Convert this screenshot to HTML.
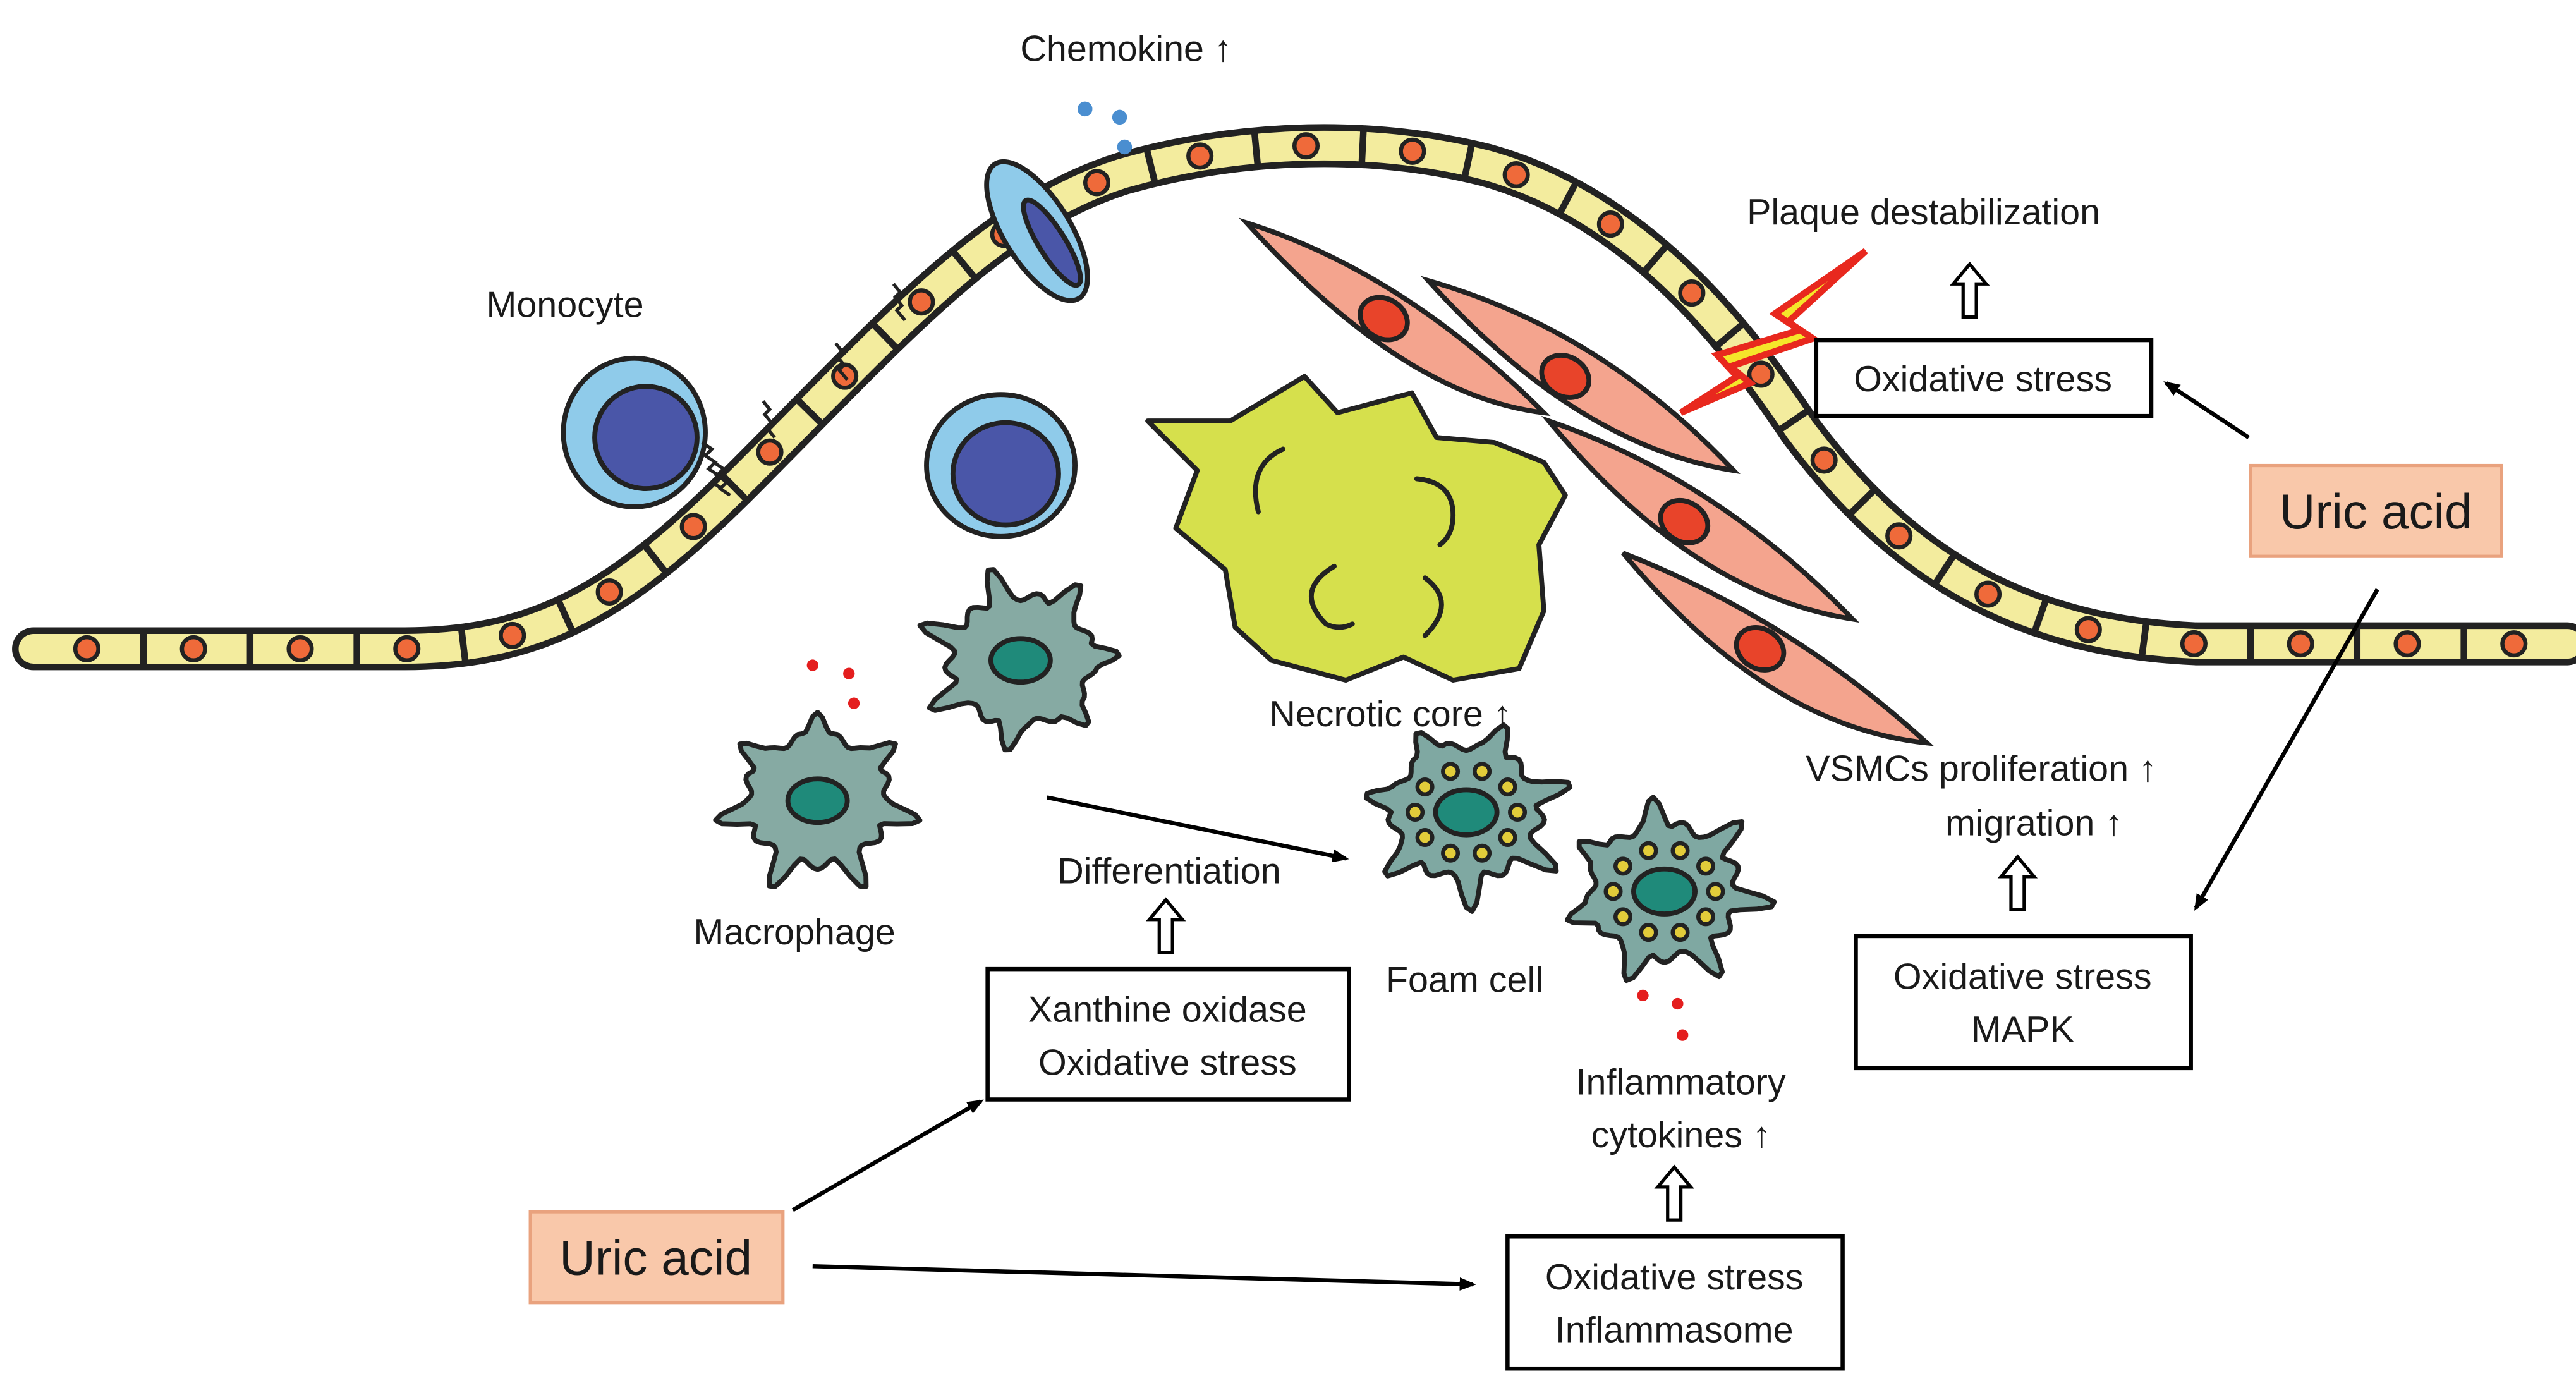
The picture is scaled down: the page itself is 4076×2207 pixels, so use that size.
<!DOCTYPE html>
<html><head><meta charset="utf-8"><style>
html,body{margin:0;padding:0;background:#fff;}
svg{display:block;}
text{font-family:"Liberation Sans",sans-serif;fill:#1a1a1a;}
</style></head><body>
<svg id="s" width="4076" height="2207" viewBox="0 0 1560 845" xmlns="http://www.w3.org/2000/svg">
<defs>
<marker id="ah" markerWidth="10" markerHeight="10" refX="8" refY="5" orient="auto" markerUnits="userSpaceOnUse"><path d="M0,1 L10,5 L0,9 Z" fill="#000"/></marker>
</defs>
<!-- necrotic core -->
<path d="M695,255 L745,255 L790,228 L810,250 L855,238 L870,265 L905,268 L935,280 L948,300 L932,330 L935,370 L920,405 L880,412 L850,398 L815,412 L770,400 L748,380 L742,345 L712,320 L725,285 Z" fill="#d6e04c" stroke="#222" stroke-width="3" stroke-linejoin="round"/>
<g fill="none" stroke="#222" stroke-width="3" stroke-linecap="round">
<path d="M777,272 q-22,10 -15,38"/><path d="M858,290 q22,2 22,22 q0,12 -8,18"/>
<path d="M808,343 q-25,15 -5,35 q8,4 16,0"/><path d="M863,350 q20,15 0,35"/>
</g>
<!-- VSMCs -->
<g stroke="#222" stroke-width="3" fill="#f4a48e">
<path d="M755,135 Q850,165 935,250 Q850,240 755,135 Z"/>
<path d="M865,170 Q970,200 1050,285 Q955,270 865,170 Z"/>
<path d="M938,255 Q1040,290 1122,375 Q1025,360 938,255 Z"/>
<path d="M983,335 Q1085,375 1167,450 Q1070,440 983,335 Z"/>
</g>
<g stroke="#222" stroke-width="3" fill="#e8442a">
<ellipse cx="838" cy="193" rx="15" ry="12" transform="rotate(30 838 193)"/>
<ellipse cx="948" cy="228" rx="15" ry="12" transform="rotate(30 948 228)"/>
<ellipse cx="1020" cy="316" rx="15" ry="12" transform="rotate(30 1020 316)"/>
<ellipse cx="1066" cy="393" rx="15" ry="12" transform="rotate(30 1066 393)"/>
</g>
<!-- endothelium -->
<path id="endo" d="M20,393 L245,393 C330,393 380,360 450,290 C540,200 600,130 680,105 C740,88 820,80 900,100 C990,125 1050,200 1090,260 C1150,340 1220,385 1330,390 L1555,390" fill="none" stroke="#222" stroke-width="26" stroke-linecap="round"/>
<path d="M20,393 L245,393 C330,393 380,360 450,290 C540,200 600,130 680,105 C740,88 820,80 900,100 C990,125 1050,200 1090,260 C1150,340 1220,385 1330,390 L1555,390" fill="none" stroke="#f3ec9e" stroke-width="18" stroke-linecap="round"/>
<g id="cells"></g>
<!-- lightning -->
<path d="M1130,152 L1075,190 L1090,200 L1040,215 L1052,228 L1018,250 L1060,232 L1048,222 L1098,205 L1083,195 Z" fill="#f5e62a" stroke="#e8281e" stroke-width="4" stroke-linejoin="miter"/>
<!-- receptor cell -->
<ellipse cx="628" cy="140" rx="48" ry="20" transform="rotate(58 628 140)" fill="#8fcbea" stroke="#222" stroke-width="3"/>
<ellipse cx="637" cy="147" rx="30" ry="8" transform="rotate(58 637 147)" fill="#4a56a8" stroke="#222" stroke-width="3"/>
<g fill="#4a8ed0"><circle cx="657" cy="66" r="4.5"/><circle cx="678" cy="71" r="4.5"/><circle cx="681" cy="89" r="4.5"/></g>
<!-- monocytes -->
<ellipse cx="384" cy="262" rx="43" ry="45" fill="#8fcbea" stroke="#222" stroke-width="3"/>
<circle cx="391" cy="265" r="31" fill="#4a56a8" stroke="#222" stroke-width="3"/>
<ellipse cx="606" cy="282" rx="45" ry="43" fill="#8fcbea" stroke="#222" stroke-width="3"/>
<ellipse cx="609" cy="287" rx="32" ry="31" fill="#4a56a8" stroke="#222" stroke-width="3"/>
<g fill="none" stroke="#222" stroke-width="2">
<path d="M425,268 l6,4 -4,4 6,4 -4,4 6,4 -4,4 6,4"/><path d="M432,280 l6,4 -4,4 6,4 -4,4 6,4"/>
<path d="M462,243 l4,5 -3,3 4,5 -3,3 5,6"/>
<path d="M506,208 l4,5 -3,3 4,5 -3,3 5,6"/>
<path d="M541,172 l4,5 -3,3 4,5 -3,3 5,6"/>
</g>
<g id="macs"></g>
<g fill="#e41e1e"><circle cx="492" cy="403" r="3.5"/><circle cx="514" cy="408" r="3.5"/><circle cx="517" cy="426" r="3.5"/>
<circle cx="995" cy="603" r="3.5"/><circle cx="1016" cy="608" r="3.5"/><circle cx="1019" cy="627" r="3.5"/></g>
<!-- labels -->
<g font-size="22" text-anchor="middle">
<text x="682" y="37">Chemokine ↑</text>
<text x="342" y="192">Monocyte</text>
<text x="1165" y="136">Plaque destabilization</text>
<text x="842" y="440">Necrotic core ↑</text>
<text x="1200" y="473">VSMCs proliferation ↑</text>
<text x="1232" y="506">migration ↑</text>
<text x="708" y="535">Differentiation</text>
<text x="481" y="572">Macrophage</text>
<text x="887" y="601">Foam cell</text>
<text x="1018" y="663">Inflammatory</text>
<text x="1018" y="695">cytokines ↑</text>
</g>
<!-- boxes -->
<g fill="#fff" stroke="#000" stroke-width="2.5">
<rect x="1100" y="206" width="203" height="46"/>
<rect x="1124" y="567" width="203" height="80"/>
<rect x="598" y="587" width="219" height="79"/>
<rect x="913" y="749" width="203" height="80"/>
</g>
<g fill="#f9c8aa" stroke="#e9a27e" stroke-width="2">
<rect x="1363" y="282" width="152" height="55"/>
<rect x="321" y="734" width="153" height="55"/>
</g>
<g font-size="22" text-anchor="middle">
<text x="1201" y="237">Oxidative stress</text>
<text x="1225" y="599">Oxidative stress</text>
<text x="1225" y="631">MAPK</text>
<text x="707" y="619">Xanthine oxidase</text>
<text x="707" y="651">Oxidative stress</text>
<text x="1014" y="781">Oxidative stress</text>
<text x="1014" y="813">Inflammasome</text>
</g>
<g font-size="30" text-anchor="middle">
<text x="1439" y="320">Uric acid</text>
<text x="397" y="772">Uric acid</text>
</g>
<!-- arrows -->
<g stroke="#000" stroke-width="2.5" fill="none" marker-end="url(#ah)">
<line x1="1362" y1="265" x2="1312" y2="232"/>
<line x1="1440" y1="357" x2="1330" y2="550"/>
<line x1="480" y1="733" x2="594" y2="667"/>
<line x1="492" y1="767" x2="892" y2="778"/>
<line x1="634" y1="483" x2="815" y2="520"/>
</g>
<g fill="#fff" stroke="#000" stroke-width="2">
<path d="M1193,160 l-10,12 h6 v20 h8 v-20 h6 z"/>
<path d="M706,545 l-10,12 h6 v20 h8 v-20 h6 z"/>
<path d="M1222,519 l-10,12 h6 v20 h8 v-20 h6 z"/>
<path d="M1014,707 l-10,12 h6 v20 h8 v-20 h6 z"/>
</g>
</svg>
<script>
var NS="http://www.w3.org/2000/svg";
var p=document.getElementById("endo"),L=p.getTotalLength(),g=document.getElementById("cells");
var n=27,step=L/n;
for(var i=0;i<n;i++){
 var a=p.getPointAtLength(i*step+2),b=p.getPointAtLength(i*step+step/2);
 if(i>0){var a1=p.getPointAtLength(i*step-1),a2=p.getPointAtLength(i*step+1);var ang=Math.atan2(a2.y-a1.y,a2.x-a1.x);
 var dx=-Math.sin(ang)*11,dy=Math.cos(ang)*11;var l=document.createElementNS(NS,"line");
 l.setAttribute("x1",a.x-dx);l.setAttribute("y1",a.y-dy);l.setAttribute("x2",a.x+dx);l.setAttribute("y2",a.y+dy);
 l.setAttribute("stroke","#222");l.setAttribute("stroke-width","4");g.appendChild(l);}
 var c=document.createElementNS(NS,"circle");c.setAttribute("cx",b.x);c.setAttribute("cy",b.y);c.setAttribute("r","7");
 c.setAttribute("fill","#ef6a3a");c.setAttribute("stroke","#222");c.setAttribute("stroke-width","2.5");g.appendChild(c);
}
var m=document.getElementById("macs");
function mac(cx,cy,R,rot,foam){
 var d="",N=120;
 for(var k=0;k<=N;k++){var t=k/N*2*Math.PI;var r=R*(0.72+0.32*Math.pow(Math.max(0,Math.sin(7*(t+rot))),3)+0.05*Math.sin(13*t));
 d+=(k?"L":"M")+(cx+r*Math.cos(t)).toFixed(1)+","+(cy+r*Math.sin(t)*0.9).toFixed(1);}
 var s=document.createElementNS(NS,"path");s.setAttribute("d",d+"Z");s.setAttribute("fill",foam?"#7fa8a2":"#86aaa3");
 s.setAttribute("stroke","#222");s.setAttribute("stroke-width","3");s.setAttribute("stroke-linejoin","round");m.appendChild(s);
 var e=document.createElementNS(NS,"ellipse");e.setAttribute("cx",cx);e.setAttribute("cy",cy);e.setAttribute("rx",R*0.3);e.setAttribute("ry",R*0.22);
 e.setAttribute("fill","#1f8a7a");e.setAttribute("stroke","#222");e.setAttribute("stroke-width","3");m.appendChild(e);
 if(foam){for(var j=0;j<10;j++){var t2=j/10*2*Math.PI;var c=document.createElementNS(NS,"circle");
 c.setAttribute("cx",cx+R*0.5*Math.cos(t2));c.setAttribute("cy",cy+R*0.42*Math.sin(t2));c.setAttribute("r","4.5");
 c.setAttribute("fill","#e2cc3a");c.setAttribute("stroke","#222");c.setAttribute("stroke-width","2.5");m.appendChild(c);}}
}
mac(618,400,60,0.3,false);mac(495,485,60,0.9,false);mac(888,492,62,0.5,true);mac(1008,540,62,0.1,true);
</script>
</body></html>
